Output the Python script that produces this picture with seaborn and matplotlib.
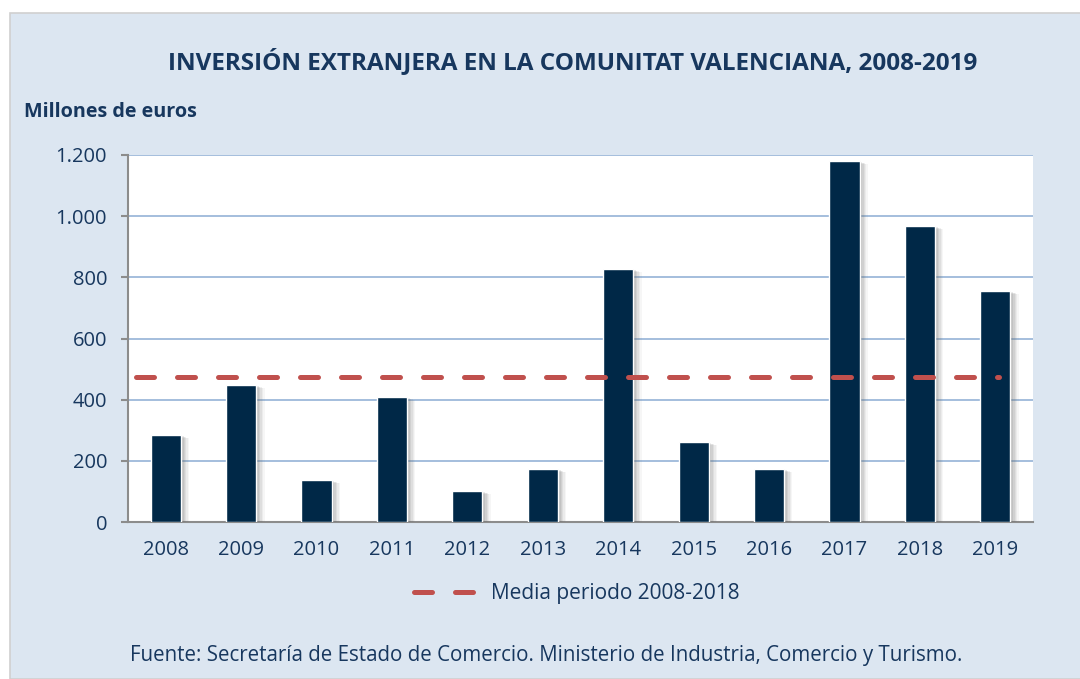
import numpy as np
import pandas as pd
import matplotlib
matplotlib.use("Agg")
import matplotlib.pyplot as plt
import matplotlib.patheffects as pe
from matplotlib.patches import Rectangle
from matplotlib.lines import Line2D
import seaborn as sns

# ------------------------------------------------------------
# Data (millones de euros)
# ------------------------------------------------------------
years = ["2008", "2009", "2010", "2011", "2012", "2013",
         "2014", "2015", "2016", "2017", "2018", "2019"]
inversion = [284, 448, 137, 409, 101, 173, 827, 262, 173, 1180, 968, 755]
media_2008_2018 = 475

title = "INVERSIÓN EXTRANJERA EN LA COMUNITAT VALENCIANA, 2008-2019"
ylabel = "Millones de euros"
legend_label = "Media periodo 2008-2018"
fuente = "Fuente: Secretaría de Estado de Comercio. Ministerio de Industria, Comercio y Turismo."
yticks = [0, 200, 400, 600, 800, 1000, 1200]
ytick_labels = ["0", "200", "400", "600", "800", "1.000", "1.200"]

df = pd.DataFrame({"year": years, "value": inversion})

BG = "#dce6f1"
NAVY = "#002847"
TEXT = "#17375e"
RED = "#c0504d"
GRID = "#95b3d7"
AXIS = "#8c8c8c"
DASH = (0, (3.6, 4.6))

sns.set_theme(style="white")
plt.rcParams["font.family"] = ["Open Sans", "DejaVu Sans"]

fig = plt.figure(figsize=(10.8, 6.79), dpi=100)
fig.patch.set_facecolor("white")
fig.patches.append(Rectangle((10 / 1080, 0), 1.0, 1 - 13 / 679, transform=fig.transFigure,
                             facecolor=BG, edgecolor="#d0d0d0", linewidth=1.2, zorder=-5))

ax = fig.add_axes([128 / 1080, 1 - 522 / 679, (1033 - 128) / 1080, (522 - 155) / 679])
ax.set_facecolor("white")

sns.barplot(data=df, x="year", y="value", color=NAVY, width=0.4, saturation=1,
            ax=ax, zorder=3)
# soft drop shadow to the right of each bar
shadow = [pe.SimplePatchShadow(offset=(o, -o * 0.4), shadow_rgbFace="#6e6e6e", alpha=a)
          for o, a in [(6, 0.06), (5, 0.08), (4, 0.1), (3, 0.12), (2, 0.14)]]
for bar in ax.patches:
    bar.set_path_effects(shadow + [pe.Normal()])

# mean line
x = np.arange(len(years))
ax.plot([x[0] - 0.4, x[-1] + 0.05], [media_2008_2018, media_2008_2018],
        color=RED, linewidth=3.6, linestyle=DASH, dash_capstyle="round", zorder=4)

ax.set_xlim(-0.5, len(years) - 0.5)
ax.set_ylim(0, 1200)
ax.set_yticks(yticks)
ax.set_yticklabels(ytick_labels)
ax.yaxis.grid(True, color=GRID, linewidth=1.2, zorder=0)
ax.set_axisbelow(True)

for s in ["top", "right"]:
    ax.spines[s].set_visible(False)
for s in ["left", "bottom"]:
    ax.spines[s].set_color(AXIS)
    ax.spines[s].set_linewidth(1.5)

# category labels centered, tick marks on category boundaries
ax.set_xticks(x)
ax.set_xticklabels(years)
ax.set_xticks(np.arange(len(years) + 1) - 0.5, minor=True)
ax.tick_params(axis="x", which="major", length=0, pad=13, labelsize=14.5, labelcolor=TEXT)
ax.tick_params(axis="x", which="minor", length=5, width=1.5, color=AXIS, direction="out")
ax.tick_params(axis="y", length=5, width=1.5, color=AXIS, direction="out", left=True,
               pad=10, labelsize=14.5, labelcolor=TEXT)
ax.set_xlabel("")
ax.set_ylabel("")

fig.text(573 / 1080, 1 - 62 / 679, title, ha="center", va="center", fontsize=17.5,
         fontweight="bold", color=TEXT)
fig.text(24 / 1080, 1 - 112 / 679, ylabel, ha="left", va="center", fontsize=14.2,
         fontweight="bold", color=TEXT)

handle = Line2D([], [], color=RED, linewidth=3.6, linestyle=DASH, dash_capstyle="round")
fig.legend([handle], [legend_label], loc="center", bbox_to_anchor=(577 / 1080, 1 - 594 / 679),
           frameon=False, fontsize=15, labelcolor=TEXT, handlelength=2.9, handletextpad=0.8)

fig.text(546 / 1080, 1 - 655 / 679, fuente, ha="center", va="center", fontsize=14.8,
         color=TEXT)

fig.savefig("out.png", dpi=100)
